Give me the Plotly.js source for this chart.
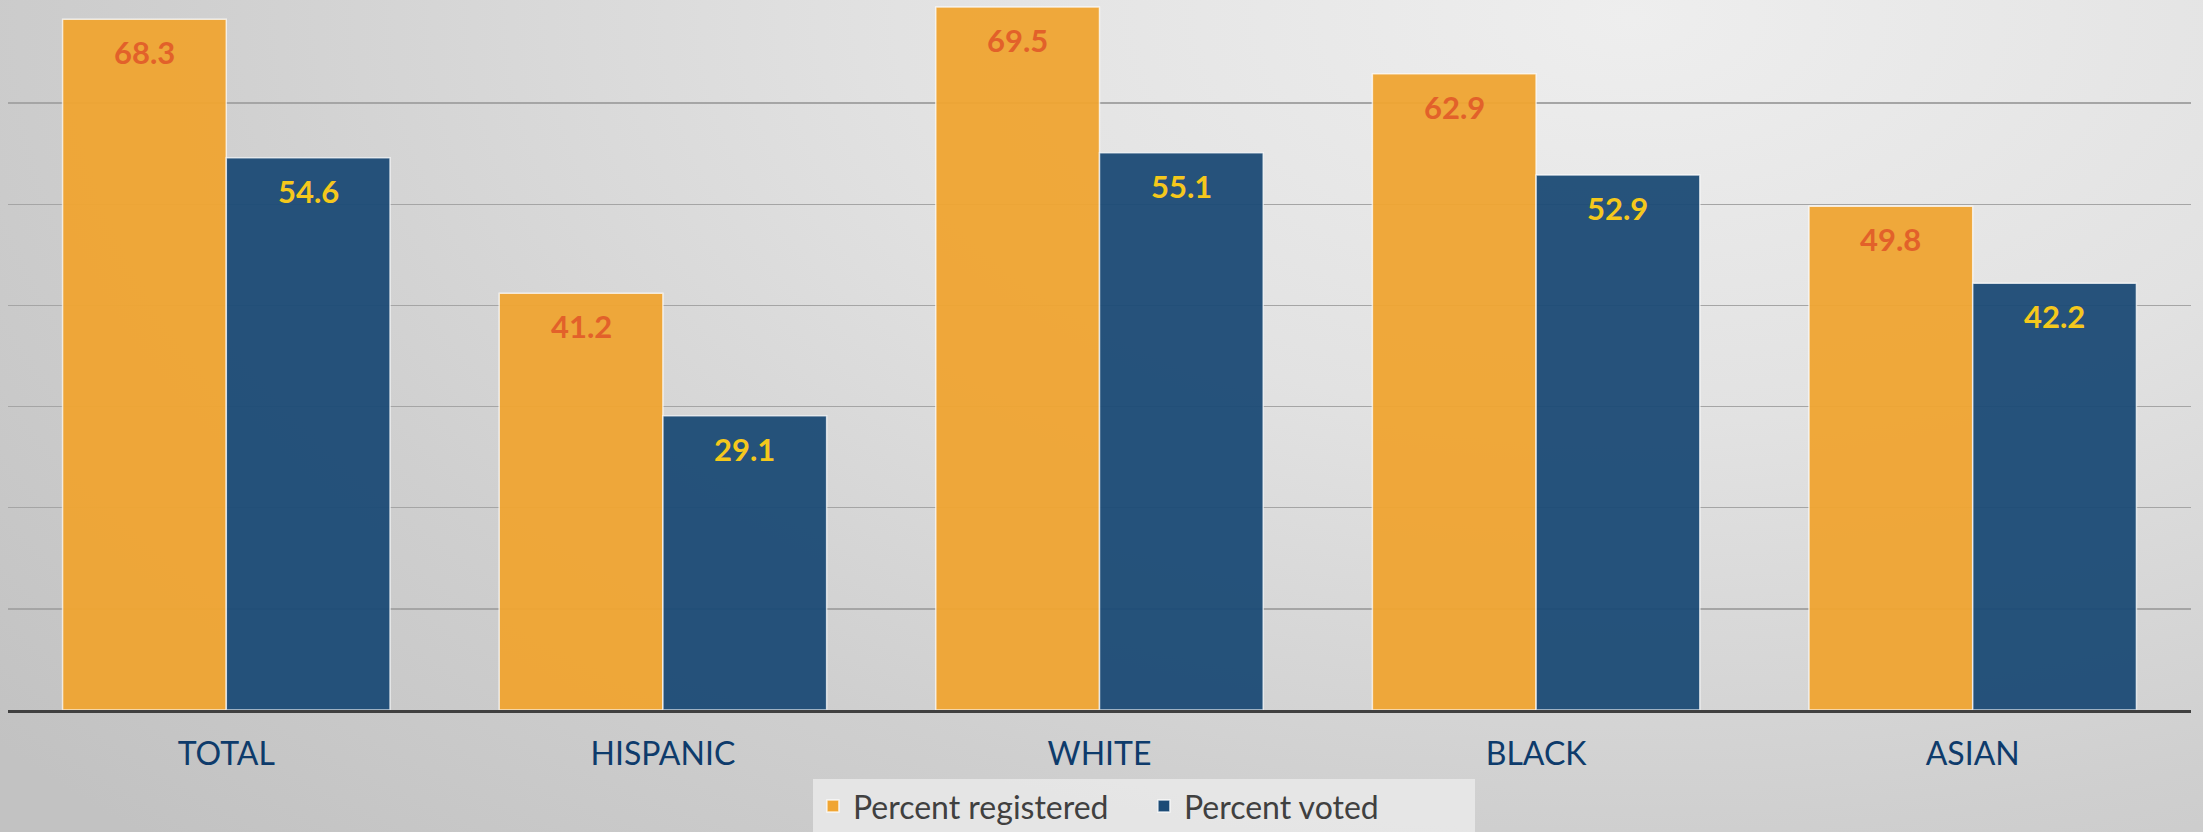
<!DOCTYPE html>
<html>
<head>
<meta charset="utf-8">
<script src="https://cdn.plot.ly/plotly-3.0.1.min.js"></script>
<style>
  html, body { margin: 0; padding: 0; }
  body {
    width: 2203px; height: 832px; overflow: hidden;
    background: radial-gradient(ellipse 95% 140% at 74% 2%, #eeeeee 0%, #e2e2e2 35%, #cfcfcf 70%, #c2c2c2 100%);
  }
  #chart { width: 2203px; height: 832px; }
</style>
</head>
<body>
<div id="chart"></div>
<script>
const categories = ["TOTAL", "HISPANIC", "WHITE", "BLACK", "ASIAN"];
const seriesNames = ["Percent registered", "Percent voted"];
const registered = [68.3, 41.2, 69.5, 62.9, 49.8];
const voted = [54.6, 29.1, 55.1, 52.9, 42.2];
const yTicks = [0, 10, 20, 30, 40, 50, 60, 70];

const barColors = ["#F0A532", "#1C4B76"];
const labelColors = ["#E2612A", "#F5C81C"];
const seriesValues = [registered, voted];

const traces = seriesValues.map((vals, i) => ({
  type: "bar",
  name: seriesNames[i],
  x: categories,
  y: vals,
  marker: { color: barColors[i], opacity: 0.95, line: { color: "rgba(255,255,255,0.75)", width: 1.5 } },
  hoverinfo: "x+y"
}));

const W = 2203, ml = 8, mr = 12;
const catW = (W - ml - mr) / categories.length;
const bargap = 0.25;
const barW = catW * (1 - bargap) / 2;

const annotations = [];
seriesValues.forEach((vals, i) => {
  vals.forEach((v, j) => {
    annotations.push({
      x: categories[j], y: v, xref: "x", yref: "y",
      xshift: (i === 0 ? -1 : 1) * barW / 2,
      yshift: -12, yanchor: "top", xanchor: "center",
      text: v.toFixed(1), showarrow: false,
      font: { family: "Lato, sans-serif", size: 31, color: labelColors[i], weight: 700 }
    });
  });
});

const layout = {
  width: 2203, height: 832,
  margin: { l: ml, r: mr, t: 2, b: 122 },
  paper_bgcolor: "rgba(0,0,0,0)",
  plot_bgcolor: "rgba(0,0,0,0)",
  barmode: "group",
  bargap: bargap,
  bargroupgap: 0,
  showlegend: true,
  legend: {
    orientation: "h",
    xref: "container", yref: "container",
    x: 0.369, xanchor: "left", y: 0.064, yanchor: "top",
    bgcolor: "rgba(232,232,232,0.9)",
    font: { family: "Lato, sans-serif", size: 32, color: "#404040" },
    itemwidth: 30, entrywidth: 286, entrywidthmode: "pixels",
    traceorder: "normal"
  },
  xaxis: {
    type: "category",
    showgrid: false, zeroline: false,
    showline: true, linecolor: "#404040", linewidth: 3,
    ticks: "", ticklabelstandoff: 14,
    tickfont: { family: "Lato, sans-serif", size: 32, color: "#0E3B6B" }
  },
  yaxis: {
    range: [0, 70], tickvals: yTicks, showticklabels: false,
    showgrid: true, gridcolor: "#a5a5a5", gridwidth: 1.5,
    zeroline: false, showline: false, fixedrange: true
  },
  annotations: annotations,
  font: { family: "Lato, sans-serif" }
};

Plotly.newPlot("chart", traces, layout, { displayModeBar: false, staticPlot: true });
</script>
</body>
</html>
